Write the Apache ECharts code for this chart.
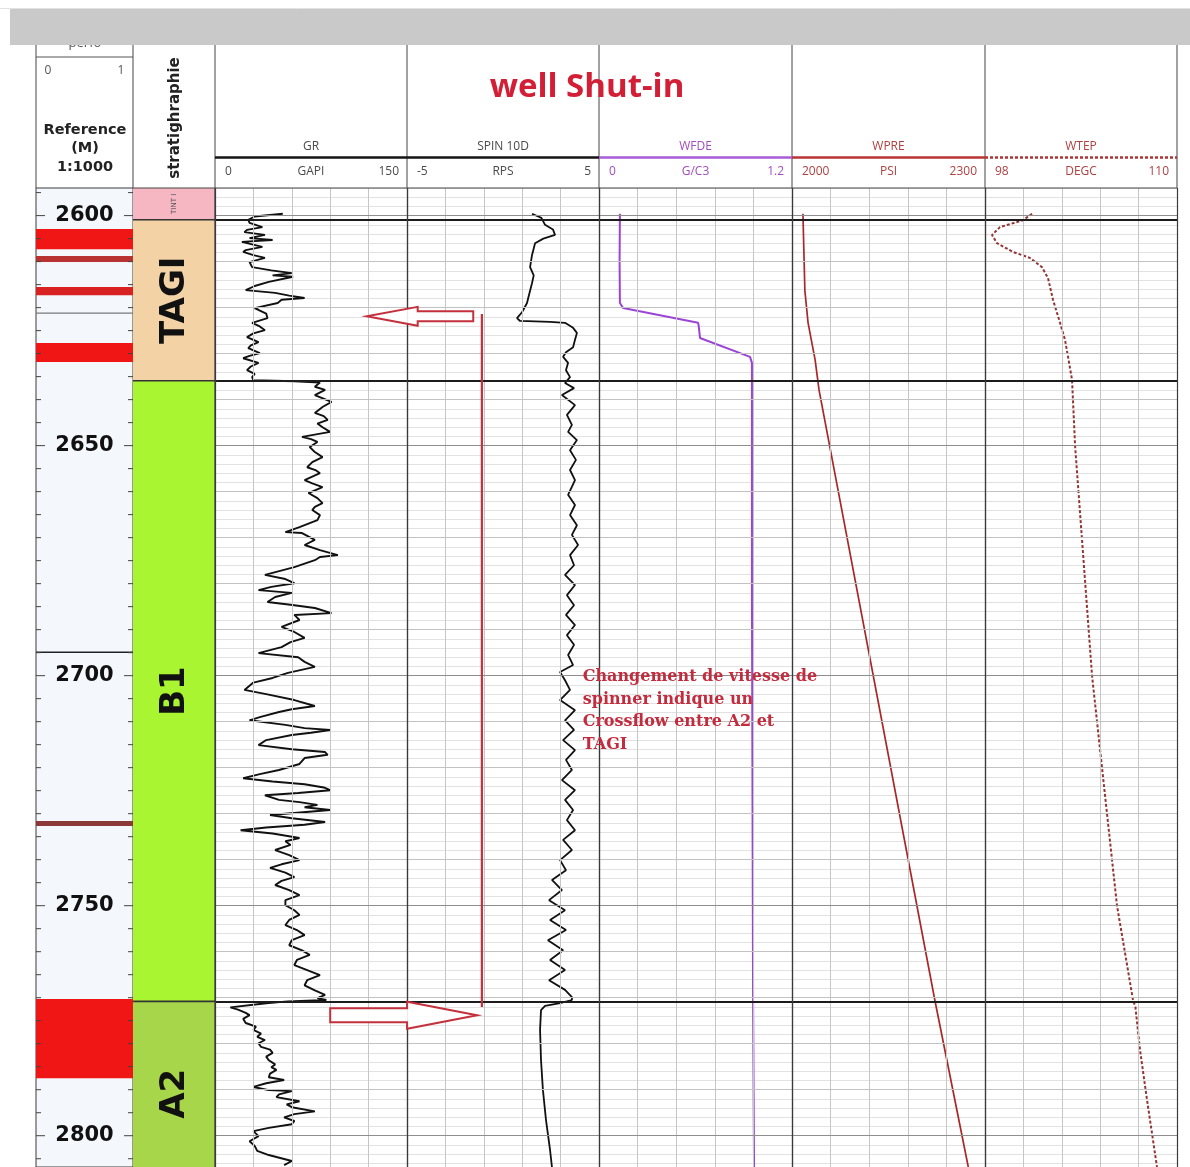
<!DOCTYPE html>
<html>
<head>
<meta charset="utf-8">
<script src="https://cdn.jsdelivr.net/npm/echarts@6/dist/echarts.min.js"></script>
<style>
  html, body { margin: 0; padding: 0; background: #ffffff; }
  #chart { width: 1190px; height: 1167px; }
</style>
</head>
<body>
<div id="chart"></div>
<script>
// ---------------- depth window (m) ----------------
const DEPTH_MIN = 2594;
const DEPTH_MAX = 2806.8;
const DEPTH_LABELS = [2600, 2650, 2700, 2750, 2800];

// ---------------- curve scales ----------------
const GR_SCALE = [0, 150];
const SPIN_SCALE = [-5, 5];
const WFDE_SCALE = [0, 1.2];
const WPRE_SCALE = [2000, 2300];
const WTEP_SCALE = [98, 110];

// header texts
const TRACK_NAMES = ['GR', 'SPIN 10D', 'WFDE', 'WPRE', 'WTEP'];
const TRACK_UNITS = ['GAPI', 'RPS', 'G/C3', 'PSI', 'DEGC'];
const TRACK_MIN_LABELS = ['0', '-5', '0', '2000', '98'];
const TRACK_MAX_LABELS = ['150', '5', '1.2', '2300', '110'];

// ---------------- stratigraphy ----------------
const ZONE_NAMES = ['TINT I', 'TAGI', 'B1', 'A2'];
const ZONE_TOPS = [2594, 2600.9, 2635.9, 2770.8];
const ZONE_BASES = [2600.9, 2635.9, 2770.8, 2811];

// ---------------- perforation track ----------------
const PERF_TOPS = [2602.9, 2608.8, 2615.5, 2621.2, 2627.7, 2694.9, 2731.6, 2770.3];
const PERF_BASES = [2607.3, 2610.1, 2617.3, 2621.2, 2631.8, 2694.9, 2732.7, 2787.5];
const PERF_KINDS = ['open', 'old', 'shot', 'plug', 'open', 'marker', 'squeeze', 'open'];

// ---------------- curves: [depth, value] ----------------
const GR = [
  [2599.6,53],[2600.2,31],[2600.9,26],[2601.6,27],[2602.5,37],[2603.1,25],[2603.6,23],[2604.2,39],
  [2604.9,27],[2605.3,45],[2605.7,21],[2606.8,37],[2607.5,24],[2607.9,22],[2608.6,30],[2609.2,39],
  [2610.1,27],[2611.2,29],[2611.9,44],[2612.5,60],[2613.0,45],[2613.3,61],[2614.4,42],[2615.3,31],
  [2616.2,24],[2616.8,47],[2617.4,58],[2617.9,70],[2618.3,52],[2619.0,49],[2620.1,31],[2621.3,40],
  [2622.3,41],[2623.3,29],[2624.1,35],[2624.9,39],[2625.6,30],[2626.4,25],[2627.5,34],[2628.2,28],
  [2628.8,26],[2629.9,35],[2630.5,27],[2631.0,22],[2632.0,34],[2632.8,28],[2633.6,25],[2634.4,31],
  [2635.1,29],[2635.8,30],
  [2636.0,62],[2636.3,82],[2637.2,78],[2637.9,86],[2639.0,78],[2640.5,91],[2641.6,84],[2642.9,78],
  [2643.6,85],[2644.4,88],[2645.2,80],[2646.0,84],[2647.0,90],[2648.1,68],[2648.6,75],[2649.2,80],
  [2650.3,74],[2651.4,78],[2652.5,84],[2653.6,76],[2654.7,72],[2655.4,79],[2656.0,82],[2657.5,70],
  [2658.2,76],[2659.0,84],[2660.3,73],[2661.4,80],[2662.5,84],[2663.3,78],[2664.0,76],[2665.1,82],
  [2666.2,80],[2667.7,66],[2668.8,55],[2669.0,68],[2670.5,78],[2671.6,70],[2672.7,82],[2673.8,96],
  [2674.2,82],[2674.9,78],[2676.4,62],[2678.1,39],[2679.0,55],[2679.9,62],[2680.7,44],[2681.4,34],
  [2682.0,60],[2682.9,47],[2684.0,41],[2684.6,59],[2685.3,78],[2686.4,91],[2686.8,62],[2687.9,66],
  [2689.4,52],[2690.5,62],[2691.8,70],[2692.7,59],[2693.8,52],[2695.1,34],[2696.0,65],[2697.0,70],
  [2698.1,78],[2699.4,57],
  [2700.5,45],[2701.5,30],[2703.1,23],[2704.0,40],[2705.3,62],[2706.6,78],[2707.3,60],[2707.9,50],
  [2709.0,35],[2709.7,27],[2710.7,55],[2711.4,70],[2711.8,90],[2712.4,75],[2712.9,60],[2714.0,40],
  [2715.1,34],[2716.0,60],[2716.6,86],[2717.2,88],[2717.9,70],[2719.2,66],[2720.5,50],[2721.4,35],
  [2722.3,22],[2723.0,45],[2723.6,70],[2724.3,85],[2724.9,90],[2725.5,65],[2726.0,39],[2727.0,50],
  [2727.5,66],[2728.1,80],[2728.6,70],[2729.2,90],[2730.3,43],[2731.0,60],[2731.8,86],[2732.4,70],
  [2733.0,40],[2733.6,20],[2734.3,45],[2735.3,66],[2736.0,55],[2736.8,59],[2737.9,47],[2739.0,58],
  [2740.1,66],[2741.0,52],[2741.8,43],[2742.8,55],[2743.8,62],[2744.6,52],[2745.5,47],[2746.6,58],
  [2747.7,66],[2748.8,55],[2749.9,55],[2751.0,62],[2752.0,66],[2753.1,58],[2754.2,55],[2755.3,64],
  [2756.4,70],[2757.5,60],[2758.6,58],[2759.7,68],[2760.7,74],[2761.8,64],[2762.9,62],[2764.0,72],
  [2765.1,82],[2766.2,72],[2767.3,70],[2768.4,78],[2769.4,86],[2770.1,80],[2770.5,87],
  [2770.8,57],[2771.2,40],[2772.1,12],[2772.6,18],[2773.3,24],[2773.8,27],[2774.6,22],[2775.5,24],
  [2776.3,32],[2777.0,30],[2777.8,36],[2778.5,33],[2779.2,39],[2779.9,34],[2780.7,36],[2781.3,43],
  [2782.0,45],[2782.8,40],[2783.6,42],[2784.5,47],[2785.1,44],[2785.7,48],[2786.5,43],[2787.3,42],
  [2787.9,54],[2788.6,40],[2789.4,30],[2790.1,42],[2790.3,60],[2791.0,50],[2791.6,48],[2792.5,66],
  [2793.2,56],[2793.8,60],[2794.7,78],[2795.3,62],[2796.0,54],[2796.8,62],[2797.5,60],[2798.3,42],
  [2799.0,30],[2800.1,34],[2801.2,27],[2802.2,31],[2803.3,33],[2804.2,42],[2805.5,60],[2806.4,54]
];

const SPIN = [
  [2599.6,1.51],[2600.5,2.0],[2602.0,2.19],[2603.0,2.6],[2604.2,2.71],[2605.0,2.1],[2606.0,1.67],
  [2608.6,1.51],[2611.2,1.41],[2613.0,1.6],[2614.7,1.51],[2617.3,1.35],[2619.0,1.25],[2621.0,0.99],
  [2622.3,0.73],[2622.9,0.89],[2623.1,2.45],[2623.3,3.23],[2624.4,3.65],[2625.5,3.85],[2627.0,3.75],
  [2628.6,3.65],[2629.7,3.28],[2630.7,3.13],[2632.0,3.39],[2633.6,3.28],[2635.1,3.49],[2636.4,3.23],
  [2637.5,3.70],[2639.0,3.07],[2641.2,3.75],[2643.3,3.33],[2645.5,3.59],[2647.0,3.39],[2648.8,3.85],
  [2651.0,3.49],[2653.1,3.80],[2655.3,3.49],[2657.5,3.75],[2660.7,3.39],[2662.9,3.75],[2665.1,3.49],
  [2667.3,3.85],[2669.4,3.59],[2671.6,3.91],[2673.8,3.49],[2676.0,3.70],[2678.1,3.23],[2680.3,3.75],
  [2682.5,3.33],[2684.7,3.70],[2686.8,3.28],[2689.0,3.75],[2691.2,3.33],[2693.3,3.70],[2695.5,3.39],
  [2697.7,3.65],[2699.2,2.97],[2701.0,3.23],[2703.1,3.49],[2705.3,2.97],[2707.5,3.75],[2709.7,3.23],
  [2711.8,3.70],[2714.0,3.13],[2716.2,3.75],[2718.3,3.28],[2720.5,3.59],[2722.7,3.07],[2724.9,3.75],
  [2727.0,3.23],[2729.2,3.65],[2731.4,3.33],[2733.6,3.75],[2735.7,3.13],[2737.9,3.59],[2740.1,2.97],
  [2742.3,3.28],[2744.4,2.55],[2746.6,3.07],[2748.8,2.40],[2751.0,3.23],[2753.1,2.45],[2755.3,3.28],
  [2757.5,2.34],[2759.7,3.13],[2761.8,2.45],[2764.0,3.23],[2766.2,2.40],[2768.3,3.23],[2769.9,3.59],
  [2770.5,3.59],[2771.2,2.97],[2771.8,2.19],[2772.7,1.98],[2777.0,1.93],[2783.6,1.98],[2790.1,2.08],
  [2796.6,2.24],[2803.1,2.45],[2806.8,2.55]
];

const WFDE = [
  [2599.6,0.13],[2610.0,0.128],[2619.0,0.13],[2620.1,0.15],[2623.3,0.616],[2624.0,0.62],
  [2626.6,0.628],[2630.7,0.939],[2632.0,0.951],[2683.6,0.951],[2770.5,0.958],[2806.8,0.964]
];

const WPRE = [
  [2599.6,2017],[2616.3,2020],[2623.3,2025],[2627.0,2030],[2631.4,2036],[2637.9,2042],
  [2770.5,2222],[2806.8,2274]
];

const WTEP = [
  [2599.6,100.94],[2601.0,100.38],[2602.5,98.94],[2604.2,98.44],[2606.0,98.75],[2607.9,99.75],
  [2609.2,100.81],[2611.2,101.56],[2613.6,101.94],[2618.3,102.25],[2623.3,102.69],[2627.0,103.0],
  [2630.7,103.19],[2635.7,103.44],[2650.0,103.63],[2700.0,104.69],[2750.0,106.25],[2770.5,107.25],
  [2772.0,107.4],[2781.4,107.69],[2792.3,108.13],[2806.8,108.75]
];

// ---------------- layout ----------------
const TRACKS = [
  { left: 36, width: 97 },   // depth + perforations
  { left: 133, width: 82 },  // stratigraphy
  { left: 215, width: 192 }, // GR
  { left: 407, width: 192 }, // SPIN
  { left: 599, width: 193 }, // WFDE
  { left: 792, width: 193 }, // WPRE
  { left: 985, width: 192 }  // WTEP
];
const PLOT_TOP = 188, PLOT_H = 979;

const ZONE_COLORS = ['#f6b6c2', '#f3d3a6', '#aaf532', '#a8d64b'];
const PERF_STYLE = {
  open:    { fill: '#f01616' },
  old:     { fill: '#b83232' },
  shot:    { fill: '#d82222' },
  squeeze: { fill: '#8c3838' },
  plug:    { line: '#7a7a7a', width: 1.2 },
  marker:  { line: '#222222', width: 1.6 }
};

const CURVES = [
  { name: 'GR',   data: GR,   scale: GR_SCALE,   color: '#111111', width: 1.9, type: 'solid' },
  { name: 'SPIN', data: SPIN, scale: SPIN_SCALE, color: '#111111', width: 1.8, type: 'solid' },
  { name: 'WFDE', data: WFDE, scale: WFDE_SCALE, color: '#9a45d6', width: 2,   type: 'solid' },
  { name: 'WPRE', data: WPRE, scale: WPRE_SCALE, color: '#a82828', width: 1.7, type: 'solid' },
  { name: 'WTEP', data: WTEP, scale: WTEP_SCALE, color: '#943434', width: 2,   type: [3, 2] }
];
const HEADER_STYLE = [
  { text: '#4a4a4a', line: '#151515', dash: null },
  { text: '#4a4a4a', line: '#151515', dash: null },
  { text: '#a24cc0', line: '#a95bd8', dash: null },
  { text: '#b04040', line: '#b83434', dash: null },
  { text: '#b04040', line: '#b03434', dash: [3, 2] }
];

// ---------------- grids & axes ----------------
const grids = TRACKS.map((t, i) => ({
  left: t.left, top: PLOT_TOP, width: t.width, height: PLOT_H,
  show: i === 0, borderColor: '#3a3a3a', borderWidth: 1,
  backgroundColor: i === 0 ? '#f4f7fc' : 'transparent'
}));

const scales = [[0, 1], [0, 1]].concat(CURVES.map(c => c.scale));
const xAxes = scales.map((s, i) => ({
  type: 'value', gridIndex: i, min: s[0], max: s[1], show: false
}));
const yAxes = TRACKS.map((t, i) => ({
  type: 'value', gridIndex: i, min: DEPTH_MIN, max: DEPTH_MAX, inverse: true, interval: 2,
  axisLine: { show: false }, axisTick: { show: false }, axisLabel: { show: false },
  splitLine: { show: i >= 2, lineStyle: { color: '#e2e2e2', width: 1 } }
}));

// grid lines, track edges and formation tops for a curve track
function trackFrame(scale) {
  const items = [];
  for (let k = 1; k < 5; k++) {
    items.push({ xAxis: scale[0] + (scale[1] - scale[0]) * k / 5,
      lineStyle: { color: '#c6c6c6', width: 1, type: 'solid' } });
  }
  for (let d = 2600; d <= 2800; d += 10) {
    const major = d % 50 === 0;
    items.push({ yAxis: d, lineStyle: { color: major ? '#8e8e8e' : '#c2c2c2', width: 1, type: 'solid' } });
  }
  for (let i = 1; i < ZONE_TOPS.length; i++) {
    items.push({ yAxis: ZONE_TOPS[i], lineStyle: { color: '#1c1c1c', width: 2.2, type: 'solid' } });
  }
  scale.forEach(v => items.push({ xAxis: v, lineStyle: { color: '#3a3a3a', width: 1.2, type: 'solid' } }));
  return {
    silent: true, symbol: ['none', 'none'], label: { show: false }, animation: false,
    emphasis: { disabled: true }, data: items
  };
}

// depth ticks every 5 m
const DEPTH_TICKS = [];
for (let d = 2595; d <= 2805; d += 5) DEPTH_TICKS.push(d);

const series = [];

// perforations across the depth column
series.push({
  type: 'custom', xAxisIndex: 0, yAxisIndex: 0, silent: true, animation: false, z: 2,
  data: PERF_TOPS.map((t, i) => [i, t, PERF_BASES[i]]),
  renderItem(params, api) {
    const i = api.value(0);
    const cs = params.coordSys;
    const y0 = api.coord([0, api.value(1)])[1];
    const y1 = api.coord([0, api.value(2)])[1];
    const st = PERF_STYLE[PERF_KINDS[i]];
    if (st.line) {
      return { type: 'line', shape: { x1: cs.x, y1: y0, x2: cs.x + cs.width, y2: y0 },
        style: { stroke: st.line, lineWidth: st.width } };
    }
    return { type: 'rect', shape: { x: cs.x, y: y0, width: cs.width, height: y1 - y0 },
      style: { fill: st.fill } };
  }
});

// depth scale
series.push({
  type: 'custom', xAxisIndex: 0, yAxisIndex: 0, silent: true, animation: false, z: 3,
  data: DEPTH_TICKS.map(d => [d]),
  renderItem(params, api) {
    const d = api.value(0);
    const cs = params.coordSys;
    const y = api.coord([0, d])[1];
    const major = DEPTH_LABELS.indexOf(d) >= 0;
    const len = major ? 9 : 5;
    const children = [
      { type: 'line', shape: { x1: cs.x, y1: y, x2: cs.x + len, y2: y }, style: { stroke: '#444', lineWidth: 1 } },
      { type: 'line', shape: { x1: cs.x + cs.width - len, y1: y, x2: cs.x + cs.width, y2: y }, style: { stroke: '#444', lineWidth: 1 } }
    ];
    if (major) {
      children.push({ type: 'text', x: cs.x + cs.width / 2, y: y,
        style: { text: String(d), font: 'bold 21px "DejaVu Sans"', fill: '#111', align: 'center', verticalAlign: 'middle' } });
    }
    return { type: 'group', children };
  }
});

// stratigraphic column
series.push({
  type: 'custom', xAxisIndex: 1, yAxisIndex: 1, silent: true, animation: false, z: 2,
  data: ZONE_NAMES.map((n, i) => [i, ZONE_TOPS[i], ZONE_BASES[i]]),
  renderItem(params, api) {
    const i = api.value(0);
    const cs = params.coordSys;
    const y0 = api.coord([0, api.value(1)])[1];
    const y1 = api.coord([0, api.value(2)])[1];
    const small = i === 0;
    const children = [
      { type: 'rect', shape: { x: cs.x, y: y0, width: cs.width, height: y1 - y0 }, style: { fill: ZONE_COLORS[i] } },
      { type: 'text', x: cs.x + cs.width / 2 + (small ? 0 : 1), y: (y0 + y1) / 2, rotation: Math.PI / 2,
        style: { text: ZONE_NAMES[i], font: small ? '7px "DejaVu Sans"' : 'bold 34px "DejaVu Sans"',
          fill: small ? '#555' : '#111', align: 'center', verticalAlign: 'middle' } }
    ];
    if (i > 0) {
      children.push({ type: 'line', shape: { x1: cs.x, y1: y0, x2: cs.x + cs.width, y2: y0 },
        style: { stroke: '#333', lineWidth: 1.6 } });
    }
    children.push({ type: 'line', shape: { x1: cs.x + cs.width, y1: y0, x2: cs.x + cs.width, y2: y1 },
      style: { stroke: '#3a3a3a', lineWidth: 1.2 } });
    return { type: 'group', children };
  }
});

// log curves
CURVES.forEach((c, k) => {
  series.push({
    type: 'line', name: c.name, xAxisIndex: k + 2, yAxisIndex: k + 2,
    data: c.data.map(p => [p[1], p[0]]),
    showSymbol: false, symbol: 'none', animation: false, silent: true, z: 3,
    lineStyle: { color: c.color, width: c.width, type: c.type },
    markLine: trackFrame(c.scale)
  });
});

const chart = echarts.init(document.getElementById('chart'), null, { renderer: 'canvas' });
chart.setOption({
  backgroundColor: '#ffffff',
  animation: false,
  grid: grids, xAxis: xAxes, yAxis: yAxes, series: series
});

// ---------------- header ----------------
const g = [];
const txt = (x, y, s, font, fill, align, rot) => g.push({
  type: 'text', x: x, y: y, rotation: rot || 0, z: 50, silent: true,
  style: { text: s, font: font, fill: fill, align: align || 'center', verticalAlign: 'middle' }
});
const seg = (x1, y1, x2, y2, stroke, w, dash) => g.push({
  type: 'line', z: 50, silent: true, shape: { x1, y1, x2, y2 },
  style: { stroke: stroke, lineWidth: w || 1, lineDash: dash || null }
});

const SANS = '"Open Sans"';
txt(85, 43, 'perfo', '13px ' + SANS, '#555');
g.push({ type: 'rect', z: 60, silent: true, shape: { x: 10, y: 9, width: 1180, height: 36 }, style: { fill: '#c9c9c9' } });
seg(0, 8.5, 1190, 8.5, '#e2e2e2', 1);

[36, 133, 215, 407, 599, 792, 985, 1177].forEach(x => seg(x, 45, x, PLOT_TOP, '#444', 1));
seg(215, PLOT_TOP, 1177, PLOT_TOP, '#444', 1);
seg(133, PLOT_TOP, 215, PLOT_TOP, '#444', 1);
seg(36, 57, 133, 57, '#555', 1);
txt(48, 71, '0', '12px ' + SANS, '#555');
txt(121, 71, '1', '12px ' + SANS, '#555');
txt(85, 130, 'Reference', 'bold 14.5px "DejaVu Sans"', '#222');
txt(85, 148, '(M)', 'bold 14.5px "DejaVu Sans"', '#222');
txt(85, 167, '1:1000', 'bold 14.5px "DejaVu Sans"', '#222');
txt(175, 118, 'stratighraphie', 'bold 15px "DejaVu Sans"', '#222', 'center', Math.PI / 2);

TRACK_NAMES.forEach((name, k) => {
  const t = TRACKS[k + 2];
  const hs = HEADER_STYLE[k];
  const cx = t.left + t.width / 2;
  txt(cx, 147, name, '12px ' + SANS, hs.text);
  seg(t.left, 157.5, t.left + t.width, 157.5, hs.line, 2.5, hs.dash);
  txt(t.left + 10, 172, TRACK_MIN_LABELS[k], '12px ' + SANS, hs.text, 'left');
  txt(cx, 172, TRACK_UNITS[k], '12px ' + SANS, hs.text);
  txt(t.left + t.width - 8, 172, TRACK_MAX_LABELS[k], '12px ' + SANS, hs.text, 'right');
});

txt(587, 88, 'well Shut-in', 'bold 33px ' + SANS, '#d21f36');

// ---------------- crossflow annotation ----------------
const at = (grid, x, d) => chart.convertToPixel({ xAxisIndex: grid, yAxisIndex: grid }, [x, d]);
const RED = '#c4303c';

function arrow(tipPx, tailPx, y, bodyH, headH, headL) {
  const dir = Math.sign(tipPx - tailPx);
  const hb = tipPx - dir * headL;
  return [[tailPx, y - bodyH], [hb, y - bodyH], [hb, y - headH], [tipPx, y],
          [hb, y + headH], [hb, y + bodyH], [tailPx, y + bodyH]];
}

// upper arrow: flow leaving towards TAGI
const upTip = at(2, 118.5, 2621.9);
const upTail = at(3, -1.55, 2621.9);
g.push({ type: 'polygon', z: 45, silent: true,
  shape: { points: arrow(upTip[0], upTail[0], upTip[1], 5, 9.5, 51) },
  style: { fill: 'rgba(255,255,255,0.9)', stroke: RED, lineWidth: 2 } });

// bracket joining A2 and TAGI
const brTop = at(3, -1.1, 2621.4);
const brBot = at(3, -1.1, 2772.0);
seg(brTop[0], brTop[1], brBot[0], brBot[1], RED, 2.2);
g[g.length - 1].z = 45;

// lower arrow: flow out of A2
const loTail = at(2, 90, 2773.8);
const loTip = at(3, -1.35, 2773.8);
g.push({ type: 'polygon', z: 45, silent: true,
  shape: { points: arrow(loTip[0], loTail[0], loTip[1], 7, 13.5, 70) },
  style: { fill: 'rgba(255,255,255,0.9)', stroke: RED, lineWidth: 2 } });

const note = at(3, 4.15, 2697.9);
g.push({ type: 'text', z: 46, silent: true, x: note[0], y: note[1],
  style: { text: 'Changement de vitesse de\nspinner indique un\nCrossflow entre A2 et\nTAGI',
    font: 'bold 16px "DejaVu Serif"', fill: '#c42c3e', lineHeight: 22.5, align: 'left', verticalAlign: 'top' } });

chart.setOption({ graphic: g });
</script>
</body>
</html>
